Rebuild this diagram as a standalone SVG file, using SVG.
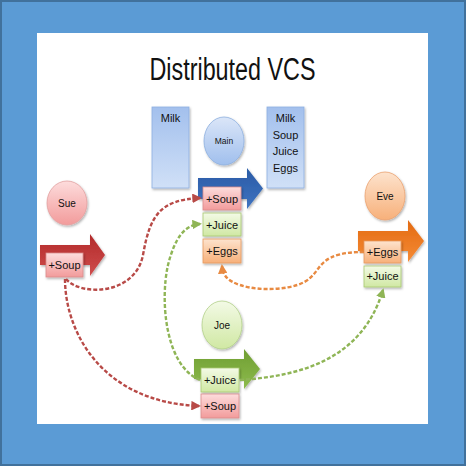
<svg xmlns="http://www.w3.org/2000/svg" width="466" height="466" viewBox="0 0 466 466">
<defs>
<linearGradient id="gBlueBox" x1="0" y1="0" x2="0" y2="1"><stop offset="0" stop-color="#a3c0ed"/><stop offset="1" stop-color="#d0e0f7"/></linearGradient>
<linearGradient id="gBlueC" x1="0" y1="0" x2="0" y2="1"><stop offset="0" stop-color="#dbe6f8"/><stop offset="1" stop-color="#a0bfed"/></linearGradient>
<linearGradient id="gRed" x1="0" y1="0" x2="0" y2="1"><stop offset="0" stop-color="#fddcdc"/><stop offset="1" stop-color="#f29b9b"/></linearGradient>
<linearGradient id="gGreen" x1="0" y1="0" x2="0" y2="1"><stop offset="0" stop-color="#f3fae6"/><stop offset="1" stop-color="#d0e8a3"/></linearGradient>
<linearGradient id="gOrange" x1="0" y1="0" x2="0" y2="1"><stop offset="0" stop-color="#fde3cd"/><stop offset="1" stop-color="#f7b07a"/></linearGradient>
<linearGradient id="aBlue" x1="0" y1="0" x2="0" y2="1"><stop offset="0" stop-color="#2a5ba6"/><stop offset="1" stop-color="#3f73c0"/></linearGradient>
<linearGradient id="aRed" x1="0" y1="0" x2="0" y2="1"><stop offset="0" stop-color="#b22a2a"/><stop offset="1" stop-color="#cf4d4d"/></linearGradient>
<linearGradient id="aOrange" x1="0" y1="0" x2="0" y2="1"><stop offset="0" stop-color="#e36a12"/><stop offset="1" stop-color="#f58b35"/></linearGradient>
<linearGradient id="aGreen" x1="0" y1="0" x2="0" y2="1"><stop offset="0" stop-color="#6f9e32"/><stop offset="1" stop-color="#8dbb4d"/></linearGradient>
<filter id="sh" x="-20%" y="-20%" width="150%" height="150%"><feDropShadow dx="1" dy="1.5" stdDeviation="1" flood-color="#000" flood-opacity="0.3"/></filter>
<marker id="mRed" viewBox="0 0 10 10" refX="8" refY="5" markerWidth="4" markerHeight="4" orient="auto"><path d="M0,0 L10,5 L0,10 z" fill="#b84a47"/></marker>
<marker id="mGreen" viewBox="0 0 10 10" refX="8" refY="5" markerWidth="4" markerHeight="4" orient="auto"><path d="M0,0 L10,5 L0,10 z" fill="#8fb556"/></marker>
<marker id="mOrange" viewBox="0 0 10 10" refX="8" refY="5" markerWidth="4" markerHeight="4" orient="auto"><path d="M0,0 L10,5 L0,10 z" fill="#e88a42"/></marker>
</defs>
<style>
text{font-family:"Liberation Sans",Arial,sans-serif;fill:#111;text-anchor:middle}
.lbl{font-size:11px}
.box{stroke-width:0.8;filter:url(#sh)}
.red{fill:url(#gRed);stroke:#d98c8c}
.green{fill:url(#gGreen);stroke:#a8c872}
.orange{fill:url(#gOrange);stroke:#e69a5e}
.blue{fill:url(#gBlueBox);stroke:#8eb0e0}
.conn{fill:none;stroke-width:2.4;stroke-dasharray:4 2}
</style>
<rect x="1" y="1" width="464" height="464" fill="#5b9bd5" stroke="#41719c" stroke-width="2"/>
<rect x="37" y="33" width="391" height="391" fill="#ffffff"/>
<text x="232.5" y="80" font-size="31" textLength="166" lengthAdjust="spacingAndGlyphs">Distributed VCS</text>

<g id="milk-before">
<rect class="box blue" x="152" y="107" width="37" height="81"/>
<text class="lbl" x="170.5" y="122">Milk</text>
</g>
<g id="milk-after">
<rect class="box blue" x="267" y="107" width="37" height="81"/>
<text class="lbl" x="285.5" y="122">Milk</text>
<text class="lbl" x="285.5" y="138.5">Soup</text>
<text class="lbl" x="285.5" y="155">Juice</text>
<text class="lbl" x="285.5" y="171.5">Eggs</text>
</g>
<g id="main">
<ellipse cx="224" cy="141" rx="20" ry="24" fill="url(#gBlueC)" stroke="#8eb0e0" stroke-width="0.8" filter="url(#sh)"/>
<text x="224" y="144" font-size="8.5">Main</text>
<polygon points="198,178 247,178 247,168 263,188.5 247,209 247,199 198,199" fill="url(#aBlue)" filter="url(#sh)"/>
<rect class="box red" x="203" y="187" width="38" height="23"/>
<text class="lbl" x="222" y="202.5">+Soup</text>
<rect class="box green" x="203" y="213" width="38" height="23"/>
<text class="lbl" x="222" y="228.5">+Juice</text>
<rect class="box orange" x="203" y="239" width="38" height="24"/>
<text class="lbl" x="222" y="255">+Eggs</text>
</g>
<g id="sue">
<ellipse cx="67" cy="203" rx="20" ry="22" fill="url(#gRed)" stroke="#e2a0a0" stroke-width="0.8" filter="url(#sh)"/>
<text x="67" y="206.5" font-size="10">Sue</text>
<polygon points="40,245 90,245 90,234 105,255 90,276 90,265 40,265" fill="url(#aRed)" filter="url(#sh)"/>
<rect class="box red" x="46" y="253" width="37" height="24"/>
<text class="lbl" x="64.5" y="269">+Soup</text>
</g>
<g id="eve">
<ellipse cx="385" cy="196" rx="20" ry="24" fill="url(#gOrange)" stroke="#eba270" stroke-width="0.8" filter="url(#sh)"/>
<text x="385" y="199.5" font-size="10">Eve</text>
<polygon points="358,231 408,231 408,220 424,241 408,262 408,251 358,251" fill="url(#aOrange)" filter="url(#sh)"/>
<rect class="box orange" x="364" y="241" width="37" height="22"/>
<text class="lbl" x="382.5" y="256">+Eggs</text>
<rect class="box green" x="364" y="266" width="37" height="21"/>
<text class="lbl" x="382.5" y="280">+Juice</text>
</g>
<g id="joe">
<ellipse cx="222" cy="325" rx="20" ry="24" fill="url(#gGreen)" stroke="#b3d08a" stroke-width="0.8" filter="url(#sh)"/>
<text x="222" y="328.5" font-size="10">Joe</text>
<polygon points="194,359 244,359 244,349 260,369 244,389 244,379 194,379" fill="url(#aGreen)" filter="url(#sh)"/>
<rect class="box green" x="201" y="368" width="38" height="24"/>
<text class="lbl" x="220" y="384">+Juice</text>
<rect class="box red" x="201" y="394" width="38" height="24"/>
<text class="lbl" x="220" y="410">+Soup</text>
</g>

<g id="connectors">
<path class="conn" d="M66,279 C80,296 135,296 143,255 C150,215 160,200 200,198" stroke="#b84a47" marker-end="url(#mRed)"/>
<path class="conn" d="M65,279 C65,330 100,402 199,406" stroke="#b84a47" marker-end="url(#mRed)"/>
<path class="conn" d="M200,380 C165,366 160,300 168,265 C175,237 185,225 200,224" stroke="#8fb556" marker-end="url(#mGreen)"/>
<path class="conn" d="M364,252 C320,252 322,268 310,278 C298,290 260,292 240,285 C228,281 223,276 222,266" stroke="#e88a42" marker-end="url(#mOrange)"/>
<path class="conn" d="M240,380 C300,376 362,360 383,290" stroke="#8fb556" marker-end="url(#mGreen)"/>
</g>
</svg>
